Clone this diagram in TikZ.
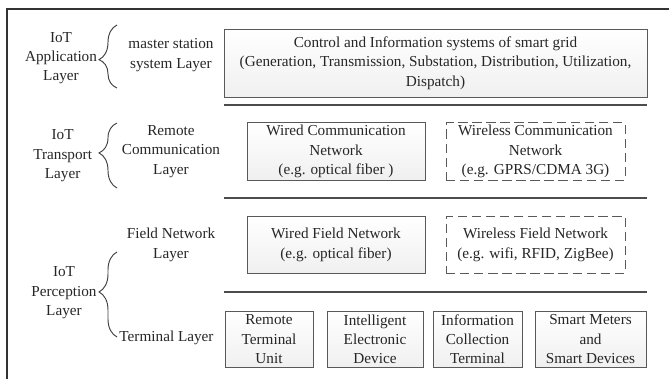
\documentclass[tikz,border=0pt]{standalone}
\usepackage{fontspec}
\setmainfont{Liberation Serif}
\usetikzlibrary{decorations.pathreplacing}
\tikzstyle{layerbox} = [rectangle, minimum height=1.7cm, text centered, align=center, inner sep=2pt, draw=gray!70!black, line width=0.8pt, top color=white, bottom color=gray!12]
\tikzstyle{wirelessbox} = [rectangle, minimum height=1.7cm, text centered, align=center, inner sep=2pt, draw=gray!70!black, line width=0.8pt, dash pattern=on 8pt off 4pt, fill=white]
\tikzstyle{layername} = [align=center, inner sep=0pt]
\tikzstyle{sepline} = [line width=0.9pt, draw=gray!60!black]
\tikzstyle{frame} = [line width=1.5pt, draw=black!80]
\tikzstyle{bracket} = [decorate, decoration={brace, amplitude=0.54cm}, line width=0.8pt, draw=gray!50!black]

\begin{document}
\begin{tikzpicture}[node distance=2.8cm, font=\fontsize{13}{16.5}\selectfont, text=black!85]

\useasboundingbox (0,0) rectangle (20.07,-11.37);
\draw [frame] (0.21,-11.37) -- (0.21,-0.27) -- (20.07,-0.27);

% boxes
\node (ctrl) [layerbox, minimum width=12.69cm, minimum height=2.04cm] at (13.065,-1.89) {Control and Information systems of smart grid\\(Generation, Transmission, Substation, Distribution, Utilization,\\Dispatch)};
\node (wcomm) [layerbox, minimum width=5.34cm, below of=ctrl, xshift=-2.985cm, yshift=0.145cm] {Wired Communication\\Network\\(e.g. optical fiber )};
\node (wlcomm) [wirelessbox, minimum width=5.37cm, right of=wcomm, xshift=3.185cm] {Wireless Communication\\Network\\(e.g. GPRS/CDMA 3G)};
\node (wfield) [layerbox, minimum width=5.34cm, below of=wcomm] {Wired Field Network\\(e.g. optical fiber)};
\node (wlfield) [wirelessbox, minimum width=5.37cm, below of=wlcomm] {Wireless Field Network\\(e.g. wifi, RFID, ZigBee)};
\node (rtu) [layerbox, minimum width=2.64cm, below of=wfield, xshift=-2.01cm, yshift=-0.035cm] {Remote\\Terminal\\Unit};
\node (ied) [layerbox, minimum width=2.88cm, right of=rtu, xshift=0.38cm] {Intelligent\\Electronic\\Device};
\node (ict) [layerbox, minimum width=2.67cm, right of=ied, xshift=0.275cm] {Information\\Collection\\Terminal};
\node (smd) [layerbox, minimum width=3.33cm, right of=ict, xshift=0.59cm] {Smart Meters\\and\\Smart Devices};

% sub-layer names
\node (msl) [layername, left of=ctrl, xshift=-5.135cm, yshift=0.24cm] {master station\\system Layer};
\node (rcl) [layername, left of=wcomm, xshift=-2.15cm] {Remote\\Communication\\Layer};
\node (fnl) [layername, left of=wfield, xshift=-2.15cm] {Field Network\\Layer};
\node (tl) [layername, left of=rtu, xshift=-0.275cm, yshift=0.04cm] {Terminal Layer};

% IoT layers
\node (app) [layername, left of=msl, xshift=-0.5cm, yshift=-0.09cm] {IoT\\Application\\Layer};
\node (tra) [layername, left of=rcl, xshift=-0.45cm, yshift=-0.13cm] {IoT\\Transport\\Layer};
\node (per) [layername, left of=fnl, xshift=-0.41cm, yshift=-1.44cm] {IoT\\Perception\\Layer};

% separators
\draw [sepline] (ctrl.west |- 0,-3.15) -- (ctrl.east |- 0,-3.15);
\draw [sepline] (ctrl.west |- 0,-5.94) -- (ctrl.east |- 0,-5.94);
\draw [sepline] (ctrl.west |- 0,-8.76) -- (ctrl.east |- 0,-8.76);

% braces
\coordinate (apptop) at (3.51,-0.75);
\coordinate (appbot) at (3.51,-2.64);
\coordinate (tratop) at (3.51,-3.69);
\coordinate (trabot) at (3.51,-5.64);
\coordinate (pertop) at (3.51,-7.56);
\coordinate (perbot) at (3.51,-10.11);
\draw [bracket, decoration={aspect=0.45}] (appbot) -- (apptop);
\draw [bracket, decoration={aspect=0.54}] (trabot) -- (tratop);
\draw [bracket, decoration={aspect=0.53}] (perbot) -- (pertop);

\end{tikzpicture}
\end{document}
